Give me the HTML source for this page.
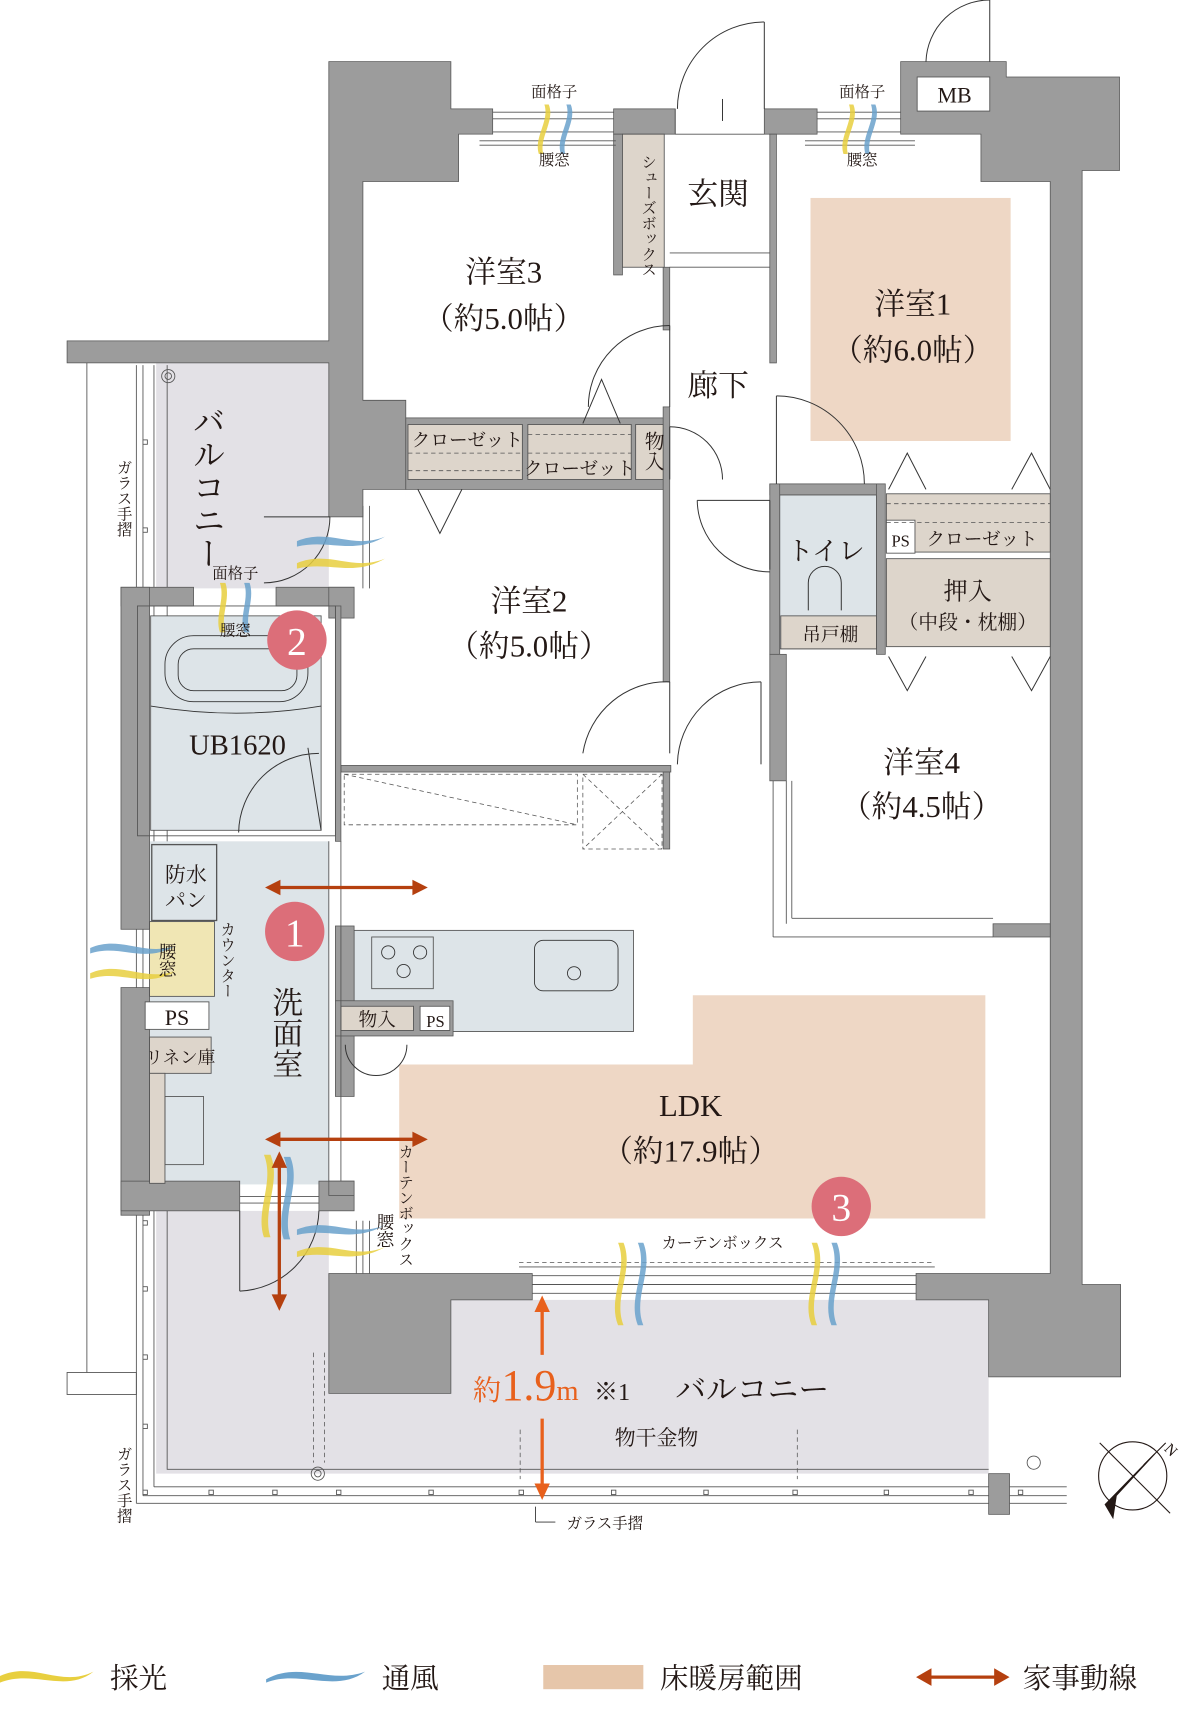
<!DOCTYPE html>
<html><head><meta charset="utf-8"><style>
html,body{margin:0;padding:0;background:#fff;}
svg{display:block;}
text{font-family:"Liberation Serif","Noto Serif CJK JP","Noto Serif CJK SC",serif;fill:#231815;}
.v{writing-mode:vertical-rl;}
</style></head><body>
<svg width="1180" height="1720" viewBox="0 0 1073 1564" preserveAspectRatio="none" xmlns="http://www.w3.org/2000/svg">
<rect width="1073" height="1564" fill="#fff"/>

<!-- balconies fill -->
<rect x="142" y="330" width="157" height="205" fill="#e3e1e6"/>
<polygon points="142,1101 299,1101 299,1267 410,1267 410,1182 899,1182 899,1340 142,1340" fill="#e3e1e6"/>
<path d="M152,332 V1336 H899" fill="none" stroke="#555" stroke-width="0.8"/>
<!-- railings -->
<g stroke="#555" stroke-width="0.8" fill="none">
<line x1="124" y1="332" x2="124" y2="1367"/><line x1="130" y1="332" x2="130" y2="1360"/><line x1="140" y1="332" x2="140" y2="1352"/>
<line x1="124" y1="1367" x2="970" y2="1367"/><line x1="130" y1="1360" x2="970" y2="1360"/><line x1="140" y1="1352" x2="970" y2="1352"/>
<line x1="79" y1="330" x2="79" y2="1248"/><rect x="61" y="1248" width="63" height="20"/>
<circle cx="289" cy="1340" r="6"/><circle cx="289" cy="1340" r="3"/>
<circle cx="153" cy="342" r="6"/><circle cx="153" cy="342" r="3"/>
<circle cx="940" cy="1330" r="6"/>
</g>
<g fill="#fff" stroke="#555" stroke-width="0.8">
<rect x="130" y="1355" width="4" height="4"/><rect x="190" y="1355" width="4" height="4"/><rect x="248" y="1355" width="4" height="4"/><rect x="306" y="1355" width="4" height="4"/><rect x="390" y="1355" width="4" height="4"/><rect x="472" y="1355" width="4" height="4"/><rect x="556" y="1355" width="4" height="4"/><rect x="640" y="1355" width="4" height="4"/><rect x="721" y="1355" width="4" height="4"/><rect x="804" y="1355" width="4" height="4"/><rect x="881" y="1355" width="4" height="4"/><rect x="926" y="1355" width="4" height="4"/>
<rect x="130" y="400" width="4" height="4"/><rect x="130" y="480" width="4" height="4"/><rect x="130" y="1110" width="4" height="4"/><rect x="130" y="1170" width="4" height="4"/><rect x="130" y="1232" width="4" height="4"/><rect x="130" y="1295" width="4" height="4"/>
</g>

<!-- heating areas -->
<rect x="737" y="180" width="182" height="221" fill="#eed7c5"/>
<polygon points="630,905 896,905 896,1108 363,1108 363,968 630,968" fill="#eed7c5"/>

<!-- interior fills -->
<rect x="137" y="560" width="155" height="195" fill="#dde4e8" stroke="#555" stroke-width="0.8"/>
<rect x="136" y="765" width="163" height="312" fill="#dde4e8"/>
<rect x="709" y="450" width="88" height="140" fill="#dde4e8" stroke="#555" stroke-width="0.8"/>
<rect x="322" y="846" width="254" height="92" fill="#dde4e8" stroke="#555" stroke-width="0.8"/>

<!-- walls -->
<g fill="#9c9c9c" stroke="#555" stroke-width="0.7">
<polygon points="299,56 410,56 410,99 448,99 448,122 417,122 417,165 330,165 330,364 369,364 369,445 330,445 330,470 299,470 299,330 61,330 61,310 299,310"/>
<rect x="558" y="99" width="56" height="23"/>
<rect x="558" y="122" width="8" height="128"/>
<rect x="695" y="99" width="48" height="23"/>
<polygon points="819,56 915,56 915,70 1018,70 1018,155 984,155 984,1168 1019,1168 1019,1252 899,1252 899,1182 833,1182 833,1158 955,1158 955,165 892,165 892,122 819,122"/>
<rect x="369" y="380" width="238" height="65"/>
<rect x="603" y="243" width="6" height="57"/>
<rect x="603" y="370" width="6" height="250"/>
<rect x="700" y="122" width="6" height="208"/>
<rect x="700" y="440" width="104" height="10"/>
<rect x="700" y="440" width="9" height="155"/>
<rect x="797" y="440" width="8" height="155"/>
<rect x="700" y="595" width="15" height="115"/>
<rect x="310" y="696" width="300" height="6"/>
<rect x="603" y="702" width="6" height="70"/>
<rect x="903" y="840" width="52" height="12"/>
<rect x="110" y="534" width="66" height="17"/><rect x="251" y="534" width="71" height="17"/>
<rect x="299" y="534" width="23" height="28"/>
<rect x="305" y="551" width="5" height="214"/>
<rect x="110" y="534" width="26" height="311"/>
<rect x="110" y="898" width="26" height="207"/>
<rect x="110" y="1074" width="108" height="27"/>
<rect x="290" y="1074" width="32" height="27"/>
<rect x="299" y="1074" width="23" height="13"/>
<rect x="305" y="842" width="17" height="155"/>
<rect x="305" y="910" width="107" height="32"/>
<polygon points="299,1158 484,1158 484,1182 410,1182 410,1267 299,1267"/>
<rect x="899" y="1340" width="19" height="37"/>
</g>
<rect x="125" y="551" width="180" height="209" fill="none" stroke="#555" stroke-width="0.8"/>

<!-- storage -->
<g stroke="#555" stroke-width="0.8">
<rect x="566" y="122" width="38" height="121" fill="#ddd5cb"/>
<rect x="371" y="386" width="104" height="50" fill="#ddd5cb"/>
<rect x="480" y="386" width="94" height="50" fill="#ddd5cb"/>
<rect x="578" y="386" width="25" height="50" fill="#ddd5cb"/>
<rect x="806" y="449" width="149" height="53" fill="#ddd5cb"/>
<rect x="806" y="473" width="26" height="30" fill="#fff"/>
<rect x="806" y="508" width="149" height="80" fill="#ddd5cb"/>
<rect x="710" y="560" width="87" height="30" fill="#ddd5cb"/>
<rect x="310" y="915" width="66" height="22" fill="#ddd5cb"/>
<rect x="382" y="915" width="27" height="22" fill="#fff"/>
<rect x="138" y="768" width="59" height="69" fill="#dde4e8" stroke-width="1.2"/>
<rect x="136" y="838" width="59" height="68" fill="#f0e6b4"/>
<rect x="132" y="911" width="58" height="25" fill="#fff"/>
<rect x="136" y="943" width="56" height="33" fill="#ddd5cb"/>
<rect x="136" y="976" width="14" height="100" fill="#ddd5cb"/>
<rect x="150" y="997" width="35" height="62" fill="none"/>
<rect x="834" y="70" width="66" height="31" fill="#fff"/>
<rect x="338" y="852" width="56" height="47" fill="none"/>
</g>
<g stroke="#555" stroke-width="0.7" stroke-dasharray="4,3" fill="none">
<line x1="371" y1="412" x2="475" y2="412"/><line x1="480" y1="412" x2="574" y2="412"/>
<line x1="371" y1="428" x2="475" y2="428"/><line x1="480" y1="395" x2="574" y2="395"/>
<line x1="806" y1="458" x2="955" y2="458"/><line x1="806" y1="475" x2="955" y2="475"/>
<rect x="313" y="704" width="212" height="46"/>
<line x1="313" y1="704" x2="525" y2="750"/>
<rect x="530" y="704" width="72" height="68"/>
<line x1="530" y1="704" x2="602" y2="772"/><line x1="602" y1="704" x2="530" y2="772"/>
<line x1="472" y1="1148" x2="850" y2="1148"/>
<line x1="285" y1="1230" x2="285" y2="1330"/><line x1="295" y1="1230" x2="295" y2="1330"/>
<line x1="725" y1="1300" x2="725" y2="1345"/><line x1="473" y1="1300" x2="473" y2="1345"/>
</g>

<!-- windows -->
<g stroke="#555" stroke-width="0.8" fill="none">
<line x1="448" y1="102" x2="558" y2="102"/><line x1="448" y1="108" x2="558" y2="108"/><line x1="448" y1="120" x2="558" y2="120"/>
<line x1="436" y1="128" x2="560" y2="128"/><line x1="436" y1="132" x2="560" y2="132"/>
<line x1="743" y1="102" x2="819" y2="102"/><line x1="743" y1="108" x2="819" y2="108"/><line x1="743" y1="120" x2="819" y2="120"/>
<line x1="732" y1="128" x2="832" y2="128"/><line x1="732" y1="132" x2="832" y2="132"/>
<line x1="614" y1="122" x2="695" y2="122"/><line x1="614" y1="99" x2="614" y2="122"/>
<line x1="609" y1="230" x2="700" y2="230"/><line x1="609" y1="243" x2="700" y2="243"/>
<line x1="484" y1="1160" x2="833" y2="1160"/><line x1="484" y1="1168" x2="833" y2="1168"/><line x1="484" y1="1176" x2="833" y2="1176"/>
<line x1="472" y1="1152" x2="850" y2="1152"/>
<line x1="299" y1="765" x2="299" y2="1074"/><line x1="310" y1="765" x2="310" y2="1074"/>
<line x1="715" y1="710" x2="715" y2="840"/><line x1="720" y1="710" x2="720" y2="835"/><line x1="703" y1="710" x2="703" y2="852"/>
<line x1="703" y1="852" x2="903" y2="852"/><line x1="720" y1="835" x2="903" y2="835"/>
<line x1="218" y1="1088" x2="290" y2="1088"/><line x1="218" y1="1094" x2="290" y2="1094"/>
<line x1="330" y1="460" x2="330" y2="535"/><line x1="336" y1="460" x2="336" y2="535"/>
<line x1="324" y1="1110" x2="324" y2="1158"/><line x1="330" y1="1110" x2="330" y2="1158"/><line x1="336" y1="1110" x2="336" y2="1158"/>
</g>

<!-- doors -->
<g stroke="#333" stroke-width="0.9" fill="none">
<path d="M695,20 A79,79 0 0 0 616,99"/><line x1="695" y1="20" x2="695" y2="99"/><line x1="657" y1="90" x2="657" y2="110"/>
<line x1="900" y1="0" x2="900" y2="56"/><path d="M900,0 A58,58 0 0 0 842,56"/>
<line x1="609" y1="296" x2="609" y2="370"/><path d="M609,296 A74,74 0 0 0 535,370"/>
<line x1="706" y1="360" x2="706" y2="440"/><path d="M706,360 A80,80 0 0 1 786,440"/>
<line x1="609" y1="388" x2="609" y2="436"/><path d="M609,388 A48,48 0 0 1 657,436"/>
<line x1="700" y1="455" x2="700" y2="518"/><path d="M634,455 A66,66 0 0 0 700,520"/><line x1="634" y1="455" x2="700" y2="455"/>
<line x1="609" y1="620" x2="609" y2="685"/><path d="M609,620 A77,77 0 0 0 530,685"/>
<line x1="692" y1="620" x2="692" y2="695"/><path d="M692,620 A76,76 0 0 0 616,695"/>
<path d="M300,470 A60,60 0 0 1 240,530"/><line x1="240" y1="470" x2="300" y2="470"/>
<path d="M290,685 A73,73 0 0 0 217,757"/><line x1="280" y1="680" x2="292" y2="755"/>
<path d="M218,1174 A75,75 0 0 0 290,1101"/><line x1="218" y1="1101" x2="218" y2="1174"/>
<path d="M314,950 A28,28 0 0 0 342,978 M370,950 A28,28 0 0 1 342,978"/>
<polyline points="380,445 400,485 420,445"/><polyline points="530,385 547,345 564,385"/>
<polyline points="808,445 825,412 842,445"/><polyline points="920,445 938,412 955,445"/>
<polyline points="808,597 825,628 842,597"/><polyline points="920,597 938,628 955,597"/>
<path d="M735,555 V530 A15,15 0 0 1 765,530 V555"/>
</g>

<!-- kitchen details -->
<g stroke="#333" stroke-width="0.8" fill="none">
<circle cx="353" cy="866" r="6"/><circle cx="382" cy="866" r="6"/><circle cx="367" cy="883" r="6"/>
<rect x="486" y="855" width="76" height="46" rx="8"/><circle cx="522" cy="885" r="6"/>
<rect x="150" y="578" width="130" height="60" rx="26"/><rect x="162" y="590" width="108" height="38" rx="14"/>
<path d="M137,642 Q215,655 292,642"/>
</g>

<!-- ventilation swooshes -->
<g opacity="0.85">
<path d="M495,95 C500,110 485,125 490,140 L494,140 C490,125 505,110 499,95Z" fill="#e8cf3f"/>
<path d="M515,95 C520,110 505,125 510,140 L514,140 C510,125 525,110 519,95Z" fill="#6aa2cc"/>
<path d="M772,95 C777,110 762,125 767,140 L771,140 C767,125 782,110 776,95Z" fill="#e8cf3f"/>
<path d="M792,95 C797,110 782,125 787,140 L791,140 C787,125 802,110 796,95Z" fill="#6aa2cc"/>
<path d="M200,530 C205,545 195,560 200,575 L205,575 C200,560 210,545 205,530Z" fill="#e8cf3f"/>
<path d="M222,530 C227,545 217,560 222,575 L227,575 C222,560 232,545 227,530Z" fill="#6aa2cc"/>
<path d="M270,492 C300,480 320,500 350,488 C320,505 300,490 270,497Z" fill="#6aa2cc"/>
<path d="M270,512 C300,500 320,520 350,508 C320,525 300,510 270,517Z" fill="#e8cf3f"/>
<path d="M82,862 C110,850 130,870 160,860 C130,877 110,858 82,867Z" fill="#6aa2cc"/>
<path d="M82,885 C110,873 130,893 160,883 C130,900 110,881 82,890Z" fill="#e8cf3f"/>
<path d="M240,1050 C250,1075 232,1100 240,1125 L246,1125 C238,1100 256,1075 246,1050Z" fill="#e8cf3f"/>
<path d="M258,1052 C268,1077 250,1102 258,1127 L264,1127 C256,1102 274,1077 264,1052Z" fill="#6aa2cc"/>
<path d="M270,1118 C300,1106 320,1126 350,1114 C320,1131 300,1116 270,1123Z" fill="#6aa2cc"/>
<path d="M270,1138 C300,1126 320,1146 350,1134 C320,1151 300,1136 270,1143Z" fill="#e8cf3f"/>
<path d="M562,1130 C572,1155 552,1180 562,1205 L567,1205 C557,1180 577,1155 567,1130Z" fill="#e8cf3f"/>
<path d="M580,1130 C590,1155 570,1180 580,1205 L585,1205 C575,1180 595,1155 585,1130Z" fill="#6aa2cc"/>
<path d="M738,1130 C748,1155 728,1180 738,1205 L743,1205 C733,1180 753,1155 743,1130Z" fill="#e8cf3f"/>
<path d="M756,1130 C766,1155 746,1180 756,1205 L761,1205 C751,1180 771,1155 761,1130Z" fill="#6aa2cc"/>
</g>

<!-- arrows -->
<g stroke="#b5400f" stroke-width="3" fill="#b5400f">
<line x1="252" y1="807" x2="377" y2="807"/><polygon points="241,807 255,800 255,814" stroke="none"/><polygon points="389,807 375,800 375,814" stroke="none"/>
<line x1="252" y1="1036" x2="377" y2="1036"/><polygon points="241,1036 255,1029 255,1043" stroke="none"/><polygon points="389,1036 375,1029 375,1043" stroke="none"/>
<line x1="254" y1="1060" x2="254" y2="1180"/><polygon points="254,1047 247,1062 261,1062" stroke="none"/><polygon points="254,1192 247,1177 261,1177" stroke="none"/>
</g>
<g stroke="#e8601c" stroke-width="3" fill="#e8601c">
<line x1="493" y1="1190" x2="493" y2="1232"/><polygon points="493,1178 486,1193 500,1193" stroke="none"/>
<line x1="493" y1="1290" x2="493" y2="1352"/><polygon points="493,1364 486,1349 500,1349" stroke="none"/>
</g>

<!-- number circles -->
<g fill="#dc6e79"><circle cx="268" cy="847" r="27"/><circle cx="270" cy="582" r="27"/><circle cx="765" cy="1097" r="27"/></g>
<g font-size="36" text-anchor="middle">
<text x="268" y="860" style="fill:#fff">1</text><text x="270" y="595" style="fill:#fff">2</text><text x="765" y="1110" style="fill:#fff">3</text></g>

<!-- compass -->
<g stroke="#231815" stroke-width="1" fill="none">
<circle cx="1030" cy="1342" r="31"/><line x1="1000" y1="1312" x2="1064" y2="1376"/><line x1="1040" y1="1332" x2="1060" y2="1312"/>
<polygon points="1005,1368 1050,1322 1015,1360 1012,1380" fill="#231815"/>
</g>
<text x="1058" y="1318" font-size="14" transform="rotate(45 1058 1318)">N</text>

<!-- labels -->
<g font-size="28" text-anchor="middle">
<text x="458" y="257">洋室3</text><text x="458" y="299">（約5.0帖）</text>
<text x="830" y="286">洋室1</text><text x="830" y="328">（約6.0帖）</text>
<text x="653" y="186">玄関</text><text x="653" y="360">廊下</text>
<text x="481" y="556">洋室2</text><text x="481" y="597">（約5.0帖）</text>
<text x="838" y="703">洋室4</text><text x="838" y="743">（約4.5帖）</text>
<text x="628" y="1015">LDK</text><text x="628" y="1056">（約17.9帖）</text>
<text x="684" y="1273">バルコニー</text>
<text x="216" y="686" font-size="26">UB1620</text>
<text x="751" y="509" font-size="24">トイレ</text>
<text x="880" y="545" font-size="22">押入</text>
<text x="880" y="572" font-size="18">（中段・枕棚）</text>
</g>
<g font-size="17" text-anchor="middle">
<text x="425" y="406">クローゼット</text><text x="527" y="432">クローゼット</text>
<text x="893" y="496">クローゼット</text><text x="819" y="497" font-size="15">PS</text>
<text x="755" y="583">吊戸棚</text>
<text x="343" y="933">物入</text><text x="396" y="934" font-size="15">PS</text>
<text x="161" y="932" font-size="20">PS</text>
<text x="164" y="967" font-size="16">リネン庫</text>
<text x="169" y="802" font-size="19">防水</text><text x="169" y="825" font-size="19">パン</text>
<text x="868" y="93" font-size="20">MB</text>
<text x="597" y="1314" font-size="19">物干金物</text>
<text x="657" y="1135" font-size="14">カーテンボックス</text>
<text x="550" y="1390" font-size="14">ガラス手摺</text>
<text x="504" y="88" font-size="14">面格子</text><text x="504" y="150" font-size="14">腰窓</text>
<text x="784" y="88" font-size="14">面格子</text><text x="784" y="150" font-size="14">腰窓</text>
<text x="214" y="526" font-size="14">面格子</text><text x="214" y="578" font-size="14">腰窓</text>
</g>
<line x1="487" y1="1370" x2="487" y2="1384" stroke="#333" stroke-width="0.8"/><line x1="487" y1="1384" x2="505" y2="1384" stroke="#333" stroke-width="0.8"/>
<text x="430" y="1273" font-size="26" style="fill:#e8601c">約<tspan font-size="40">1.9</tspan>m</text>
<text x="540" y="1273" font-size="22">※1</text>
<g font-size="14">
<text class="v" x="589" y="140">シューズボックス</text>
<text class="v" x="593" y="392" font-size="18">物入</text>
<text class="v" x="206" y="838">カウンター</text>
<text class="v" x="368" y="1040">カーテンボックス</text>
<text class="v" x="350" y="1103" font-size="16">腰窓</text>
<text class="v" x="152" y="857" font-size="16">腰窓</text>
<text class="v" x="112" y="418">ガラス手摺</text>
<text class="v" x="112" y="1315">ガラス手摺</text>
</g>
<text class="v" x="187" y="368" font-size="30">バルコニー</text>
<text class="v" x="259" y="897" font-size="28">洗面室</text>

<!-- legend -->
<path d="M0,1524 C30,1510 55,1535 85,1520 C60,1540 30,1518 0,1530Z" fill="#e8cf3f"/>
<text x="100" y="1535" font-size="26">採光</text>
<path d="M242,1527 C272,1510 300,1532 332,1520 C305,1540 272,1518 242,1530Z" fill="#6aa2cc"/>
<text x="347" y="1535" font-size="26">通風</text>
<rect x="494" y="1514" width="91" height="22" fill="#e6c6aa"/>
<text x="600" y="1535" font-size="26">床暖房範囲</text>
<line x1="845" y1="1525" x2="906" y2="1525" stroke="#b5400f" stroke-width="3"/>
<polygon points="833,1525 847,1517 847,1533" fill="#b5400f"/><polygon points="918,1525 904,1517 904,1533" fill="#b5400f"/>
<text x="930" y="1535" font-size="26">家事動線</text>
</svg>
</body></html>
